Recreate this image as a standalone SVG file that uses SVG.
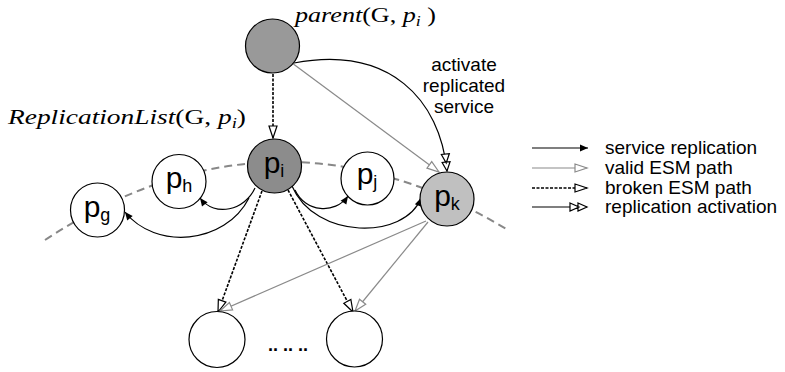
<svg xmlns="http://www.w3.org/2000/svg" width="785" height="372" viewBox="0 0 785 372">
<style>
.node{stroke:#000;stroke-width:1.2}
.lbl{font-family:"Liberation Sans",Arial,sans-serif;font-size:30px;fill:#000;text-anchor:middle}
.sub{font-size:18px}
.serif{font-family:"Liberation Serif","Times New Roman",serif;font-size:22px;fill:#000}
.it{font-style:italic}
.sans{font-family:"Liberation Sans",Arial,sans-serif;font-size:19px;fill:#000}
.rep{fill:none;stroke:#000;stroke-width:1.2}
.valid{fill:none;stroke:#8a8a8a;stroke-width:1.2}
.broken{fill:none;stroke:#000;stroke-width:1.6;stroke-dasharray:3 1.5}
.act{fill:none;stroke:#000;stroke-width:1.2}
</style>
<defs>
<marker id="mFill" markerUnits="userSpaceOnUse" markerWidth="12" markerHeight="10" refX="8" refY="3.5" orient="auto" overflow="visible">
<path d="M0,0 L8,3.5 L0,7 Z" fill="#000"/>
</marker>
<marker id="mOpenGray" markerUnits="userSpaceOnUse" markerWidth="14" markerHeight="12" refX="12" refY="4" orient="auto" overflow="visible">
<path d="M0,0 L12,4 L0,8 Z" fill="#fff" stroke="#8a8a8a" stroke-width="1.2"/>
</marker>
<marker id="mOpenBlack" markerUnits="userSpaceOnUse" markerWidth="14" markerHeight="12" refX="12" refY="4" orient="auto" overflow="visible">
<path d="M0,0 L12,4 L0,8 Z" fill="#fff" stroke="#000" stroke-width="1.2"/>
</marker>
<marker id="mDouble" markerUnits="userSpaceOnUse" markerWidth="22" markerHeight="12" refX="17" refY="4" orient="auto" overflow="visible">
<path d="M0,0 L9,4 L0,8 Z M8,0 L17,4 L8,8 Z" fill="#fff" stroke="#000" stroke-width="1.2"/>
</marker>
</defs>

<rect width="785" height="372" fill="#fff"/>

<!-- replication list arc -->
<path d="M45,240 Q275,89 508,230" fill="none" stroke="#888" stroke-width="2" stroke-dasharray="8 5"/>

<g id="connectors">
<path class="broken" d="M273,74 L273,138" marker-end="url(#mOpenBlack)"/>
<path class="valid" d="M292,63 L439,172" marker-end="url(#mOpenGray)"/>
<path class="act" d="M294,63 C390,45 440,100 447,171" marker-end="url(#mDouble)"/>
<path class="rep" d="M255,188 C245,210 215,218 200,198" marker-end="url(#mFill)"/>
<path class="rep" d="M249,198 C225,245 155,250 125,212" marker-end="url(#mFill)"/>
<path class="rep" d="M295,190 C305,212 335,215 348,196" marker-end="url(#mFill)"/>
<path class="rep" d="M292,186 C315,240 405,240 421,198" marker-end="url(#mFill)"/>
<path class="broken" d="M262,191 L218,312" marker-end="url(#mOpenBlack)"/>
<path class="broken" d="M288,190 L353,312" marker-end="url(#mOpenBlack)"/>
<path class="valid" d="M426,221 L220,311" marker-end="url(#mOpenGray)"/>
<path class="valid" d="M428,222 L355,311" marker-end="url(#mOpenGray)"/>
</g>

<g id="parent">
<circle class="node" cx="272.5" cy="46" r="27" fill="#999"/>
<text class="serif" x="295" y="22" textLength="141" lengthAdjust="spacingAndGlyphs"><tspan class="it">parent</tspan>(G, <tspan class="it">p</tspan><tspan class="it" font-size="15" dy="4">i</tspan><tspan dy="-4">  )</tspan></text>
</g>
<text class="serif" x="8" y="124" textLength="238" lengthAdjust="spacingAndGlyphs"><tspan class="it">ReplicationList</tspan>(G, <tspan class="it">p</tspan><tspan class="it" font-size="15" dy="4">i</tspan><tspan dy="-4">)</tspan></text>

<g id="pi">
<circle class="node" cx="274.5" cy="166" r="27" fill="#8c8c8c"/>
<text class="lbl" x="274" y="173">p<tspan class="sub" dy="4">i</tspan></text>
</g>
<g id="ph">
<circle class="node" cx="179" cy="181.5" r="27" fill="#fff"/>
<text class="lbl" x="179" y="188">p<tspan class="sub" dy="4">h</tspan></text>
</g>
<g id="pg">
<circle class="node" cx="97.5" cy="210" r="27" fill="#fff"/>
<text class="lbl" x="97" y="217">p<tspan class="sub" dy="4">g</tspan></text>
</g>
<g id="pj">
<circle class="node" cx="367.5" cy="178.5" r="26.5" fill="#fff"/>
<text class="lbl" x="367" y="184">p<tspan class="sub" dy="4">j</tspan></text>
</g>
<g id="pk">
<circle class="node" cx="447" cy="199" r="27" fill="#c0c0c0"/>
<text class="lbl" x="447" y="206">p<tspan class="sub" dy="4">k</tspan></text>
</g>
<g id="bl">
<circle class="node" cx="217" cy="339.5" r="28" fill="#fff"/>
</g>
<g id="br">
<circle class="node" cx="354.5" cy="339" r="28" fill="#fff"/>
</g>
<text x="268" y="351" font-family="Liberation Sans,Arial,sans-serif" font-size="18" font-weight="bold">.. .. ..</text>

<text class="sans" text-anchor="middle" x="464" y="71">activate</text>
<text class="sans" text-anchor="middle" x="464" y="92">replicated</text>
<text class="sans" text-anchor="middle" x="464" y="113">service</text>

<g id="legend">
<path class="rep" d="M532,148 L588,148" marker-end="url(#mFill)"/>
<path class="valid" d="M532,168 L587,168" marker-end="url(#mOpenGray)"/>
<path class="broken" d="M532,188 L587,188" marker-end="url(#mOpenBlack)"/>
<path class="act" d="M532,207 L587,207" marker-end="url(#mDouble)"/>
<text class="sans" x="605" y="154">service replication</text>
<text class="sans" x="605" y="174">valid ESM path</text>
<text class="sans" x="605" y="194">broken ESM path</text>
<text class="sans" x="605" y="213">replication activation</text>
</g>
</svg>
